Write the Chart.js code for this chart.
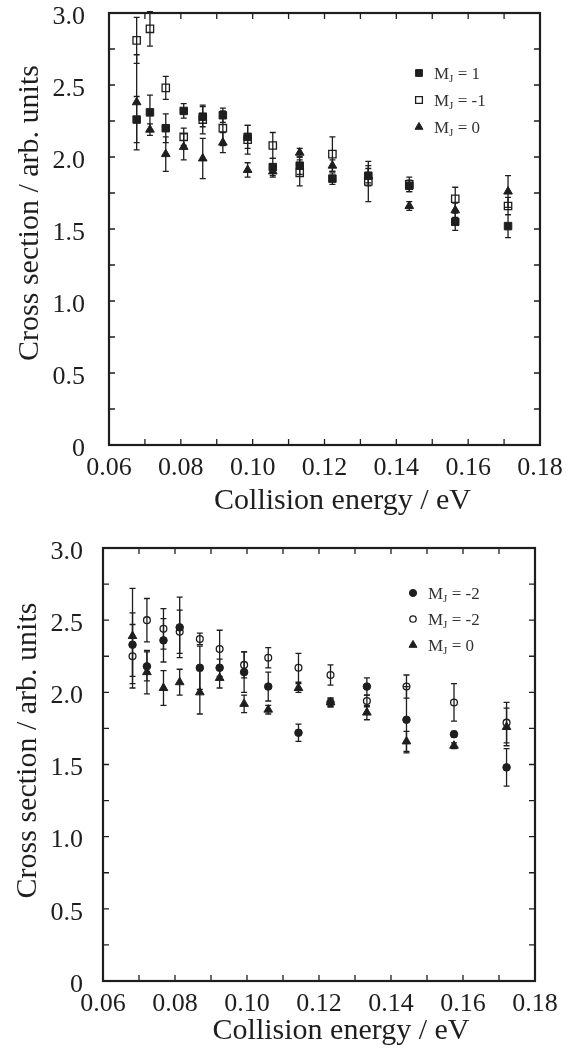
<!DOCTYPE html>
<html>
<head>
<meta charset="utf-8">
<script src="https://cdn.jsdelivr.net/npm/chart.js@4.4.1/dist/chart.umd.min.js"></script>
<style>
  html, body { margin: 0; padding: 0; background: #fff; }
  .panel { position: absolute; left: 0; width: 579px; height: 524px; }
</style>
</head>
<body>
<div class="panel" style="top:0"><canvas id="topChart" width="579" height="524"></canvas></div>
<div class="panel" style="top:524px"><canvas id="bottomChart" width="579" height="524"></canvas></div>
<script>
// tick labels
const energyTicks = [0.06, 0.08, 0.10, 0.12, 0.14, 0.16, 0.18];
const sectionTicks = [0, 0.5, 1.0, 1.5, 2.0, 2.5, 3.0];
const energyMinor = [0.06, 0.07, 0.08, 0.09, 0.10, 0.11, 0.12, 0.13, 0.14, 0.15, 0.16, 0.17, 0.18];
const sectionMinor = [0, 0.25, 0.5, 0.75, 1.0, 1.25, 1.5, 1.75, 2.0, 2.25, 2.5, 2.75, 3.0];

// upper panel
const energyTop = [0.0677, 0.0714, 0.0758, 0.0808, 0.0861, 0.0917, 0.0986, 0.1056, 0.1131, 0.1222, 0.1322, 0.1436, 0.1564, 0.1711];
const mjPlus1 = [2.26, 2.31, 2.20, 2.32, 2.28, 2.29, 2.14, 1.93, 1.94, 1.85, 1.87, 1.80, 1.55, 1.52];
const mjPlus1Err = [0.16, 0.12, 0.10, 0.05, 0.07, 0.05, 0.08, 0.06, 0.06, 0.04, 0.07, 0.04, 0.06, 0.08];
const mjMinus1 = [2.81, 2.89, 2.48, 2.14, 2.26, 2.20, 2.12, 2.08, 1.89, 2.02, 1.83, 1.81, 1.71, 1.66];
const mjMinus1Err = [0.16, 0.12, 0.08, 0.06, 0.10, 0.12, 0.10, 0.09, 0.09, 0.12, 0.14, 0.05, 0.08, 0.06];
const mjZeroTop = [2.38, 2.19, 2.02, 2.07, 1.99, 2.10, 1.91, 1.90, 2.03, 1.94, 1.87, 1.66, 1.63, 1.76];
const mjZeroTopErr = [0.33, 0.04, 0.12, 0.09, 0.14, 0.07, 0.05, 0.04, 0.03, 0.04, 0.05, 0.03, 0.05, 0.11];

// lower panel
const energyBottom = [0.0682, 0.0722, 0.0768, 0.0813, 0.0869, 0.0924, 0.0992, 0.1059, 0.1143, 0.1232, 0.1333, 0.1443, 0.1575, 0.1721];
const mjMinus2Filled = [2.33, 2.18, 2.36, 2.45, 2.17, 2.17, 2.14, 2.04, 1.72, 1.93, 2.04, 1.81, 1.71, 1.48];
const mjMinus2FilledErr = [0.22, 0.10, 0.15, 0.21, 0.15, 0.06, 0.14, 0.10, 0.06, 0.03, 0.06, 0.23, 0.02, 0.13];
const mjMinus2Open = [2.25, 2.50, 2.44, 2.42, 2.37, 2.30, 2.19, 2.24, 2.17, 2.12, 1.94, 2.04, 1.93, 1.79];
const mjMinus2OpenErr = [0.22, 0.15, 0.14, 0.15, 0.04, 0.13, 0.09, 0.07, 0.10, 0.07, 0.04, 0.08, 0.13, 0.14];
const mjZeroBottom = [2.39, 2.14, 2.03, 2.07, 2.00, 2.10, 1.92, 1.88, 2.03, 1.93, 1.86, 1.66, 1.63, 1.76];
const mjZeroBottomErr = [0.33, 0.15, 0.12, 0.09, 0.15, 0.07, 0.06, 0.03, 0.03, 0.03, 0.05, 0.07, 0.02, 0.13];

const INK = "#1e1e1e";
const SERIF = "'Liberation Serif', 'Times New Roman', serif";

function points(xs, ys) {
  return xs.map((x, i) => ({ x: x, y: ys[i] }));
}

function zeroPadding(scale) {
  scale.paddingLeft = 0;
  scale.paddingRight = 0;
  scale.paddingTop = 0;
  scale.paddingBottom = 0;
}

// box round the plot with inward ticks on all four sides
const frameBox = {
  id: "frameBox",
  afterDatasetsDraw(chart) {
    const { ctx, chartArea: a, scales } = chart;
    ctx.save();
    ctx.strokeStyle = INK;
    ctx.lineWidth = 1.3;
    ctx.beginPath();
    energyMinor.forEach((v) => {
      const px = scales.x.getPixelForValue(v);
      ctx.moveTo(px, a.bottom);
      ctx.lineTo(px, a.bottom - 6);
      ctx.moveTo(px, a.top);
      ctx.lineTo(px, a.top + 6);
    });
    sectionMinor.forEach((v) => {
      const py = scales.y.getPixelForValue(v);
      ctx.moveTo(a.left, py);
      ctx.lineTo(a.left + 6, py);
      ctx.moveTo(a.right, py);
      ctx.lineTo(a.right - 6, py);
    });
    ctx.stroke();
    ctx.lineWidth = 2.2;
    ctx.strokeRect(a.left, a.top, a.right - a.left, a.bottom - a.top);
    ctx.restore();
  },
};

const errorBars = {
  id: "errorBars",
  beforeDatasetsDraw(chart) {
    const { ctx, scales } = chart;
    ctx.save();
    ctx.strokeStyle = INK;
    ctx.lineWidth = 1.3;
    chart.data.datasets.forEach((ds) => {
      if (!ds.errors) return;
      ds.data.forEach((p, j) => {
        const e = ds.errors[j];
        const px = scales.x.getPixelForValue(p.x);
        const hi = scales.y.getPixelForValue(p.y + e);
        const lo = scales.y.getPixelForValue(p.y - e);
        ctx.beginPath();
        ctx.moveTo(px, hi);
        ctx.lineTo(px, lo);
        ctx.moveTo(px - 3, hi);
        ctx.lineTo(px + 3, hi);
        ctx.moveTo(px - 3, lo);
        ctx.lineTo(px + 3, lo);
        ctx.stroke();
      });
    });
    ctx.restore();
  },
};

const insetLegend = {
  id: "insetLegend",
  afterDraw(chart, args, opts) {
    const { ctx, chartArea: a } = chart;
    const mx = a.right + opts.dx;
    ctx.save();
    ctx.textBaseline = "alphabetic";
    ctx.fillStyle = "#333";
    chart.data.datasets.forEach((ds, i) => {
      const my = a.top + opts.dy + i * opts.gap;
      ctx.fillStyle = ds.pointBackgroundColor || ds.backgroundColor;
      ctx.strokeStyle = ds.borderColor;
      ctx.lineWidth = ds.borderWidth;
      Chart.helpers.drawPoint(ctx, { pointStyle: ds.pointStyle, radius: ds.legendRadius, rotation: 0, borderWidth: ds.borderWidth }, mx, my);
      ctx.fillStyle = "#333";
      let tx = mx + 15;
      const base = my + 6;
      ctx.font = "17px " + SERIF;
      ctx.fillText("M", tx, base);
      tx += ctx.measureText("M").width;
      ctx.font = "11px " + SERIF;
      ctx.fillText("J", tx, base + 3);
      tx += ctx.measureText("J").width;
      ctx.font = "17px " + SERIF;
      ctx.fillText(ds.label.slice(2), tx, base);
    });
    ctx.restore();
  },
};

const axisTitles = {
  id: "axisTitles",
  afterDraw(chart, args, opts) {
    const { ctx, chartArea: a } = chart;
    ctx.save();
    ctx.font = "30px " + SERIF;
    ctx.fillStyle = INK;
    ctx.textAlign = "center";
    ctx.textBaseline = "alphabetic";
    ctx.fillText("Collision energy / eV", (a.left + a.right) / 2 + opts.xShift, a.bottom + opts.xBase);
    ctx.translate(opts.yBase, (a.top + a.bottom) / 2 + opts.yShift);
    ctx.rotate(-Math.PI / 2);
    ctx.fillText("Cross section / arb. units", 0, 0);
    ctx.restore();
  },
};

function makeChart(canvasId, datasets, frame) {
  const tickFont = { family: SERIF, size: 26 };
  return new Chart(document.getElementById(canvasId), {
    type: "scatter",
    data: { datasets: datasets },
    options: {
      responsive: false,
      animation: false,
      layout: { padding: { top: frame.top, right: frame.right, left: 0, bottom: 0 } },
      plugins: {
        legend: { display: false },
        tooltip: { enabled: false },
        insetLegend: frame.legend,
        axisTitles: frame.titles,
      },
      scales: {
        x: {
          type: "linear",
          min: 0.06,
          max: 0.18,
          grid: { display: false, drawTicks: false },
          border: { display: false },
          ticks: {
            font: tickFont,
            color: INK,
            padding: 8,
            autoSkip: false,
            maxRotation: 0,
            callback: (v) => Number(v).toFixed(2),
          },
          afterBuildTicks: (s) => {
            s.ticks = energyTicks.map((v) => ({ value: v }));
          },
          afterFit: (s) => {
            s.height = frame.xHeight;
            zeroPadding(s);
          },
        },
        y: {
          type: "linear",
          min: 0,
          max: 3,
          grid: { display: false, drawTicks: false },
          border: { display: false },
          ticks: {
            font: tickFont,
            color: INK,
            padding: frame.yPad,
            labelOffset: 4,
            autoSkip: false,
            callback: (v) => (v === 0 ? "0" : Number(v).toFixed(1)),
          },
          afterBuildTicks: (s) => {
            s.ticks = sectionTicks.map((v) => ({ value: v }));
          },
          afterFit: (s) => {
            s.width = frame.yWidth;
            zeroPadding(s);
          },
        },
      },
    },
    plugins: [errorBars, frameBox, insetLegend, axisTitles],
  });
}

function series(label, xs, ys, errs, style, filled, radius, legendRadius) {
  return {
    label: label,
    data: points(xs, ys),
    errors: errs,
    pointStyle: style,
    pointRadius: radius,
    legendRadius: legendRadius,
    backgroundColor: filled ? INK : "rgba(255,255,255,0)",
    pointBackgroundColor: filled ? INK : "rgba(255,255,255,0)",
    borderColor: INK,
    borderWidth: filled ? 1 : 1.3,
    showLine: false,
  };
}

makeChart(
  "topChart",
  [
    series("MJ = 1", energyTop, mjPlus1, mjPlus1Err, "rect", true, 5.3, 4.8),
    series("MJ = -1", energyTop, mjMinus1, mjMinus1Err, "rect", false, 5.2, 4.8),
    series("MJ = 0", energyTop, mjZeroTop, mjZeroTopErr, "triangle", true, 5, 4.6),
  ],
  {
    top: 13,
    right: 39,
    xHeight: 79,
    yWidth: 109,
    yPad: 24,
    legend: { dx: -121, dy: 60, gap: 27 },
    titles: { xShift: 18, xBase: 64, yBase: 38, yShift: -16 },
  }
);

makeChart(
  "bottomChart",
  [
    series("MJ = -2", energyBottom, mjMinus2Filled, mjMinus2FilledErr, "circle", true, 3.8, 3.6),
    series("MJ = -2", energyBottom, mjMinus2Open, mjMinus2OpenErr, "circle", false, 3.4, 3.2),
    series("MJ = 0", energyBottom, mjZeroBottom, mjZeroBottomErr, "triangle", true, 5, 4.6),
  ],
  {
    top: 24,
    right: 44,
    xHeight: 67,
    yWidth: 103,
    yPad: 20,
    legend: { dx: -122, dy: 45, gap: 26 },
    titles: { xShift: 22, xBase: 58, yBase: 36, yShift: -14 },
  }
);
</script>
</body>
</html>
